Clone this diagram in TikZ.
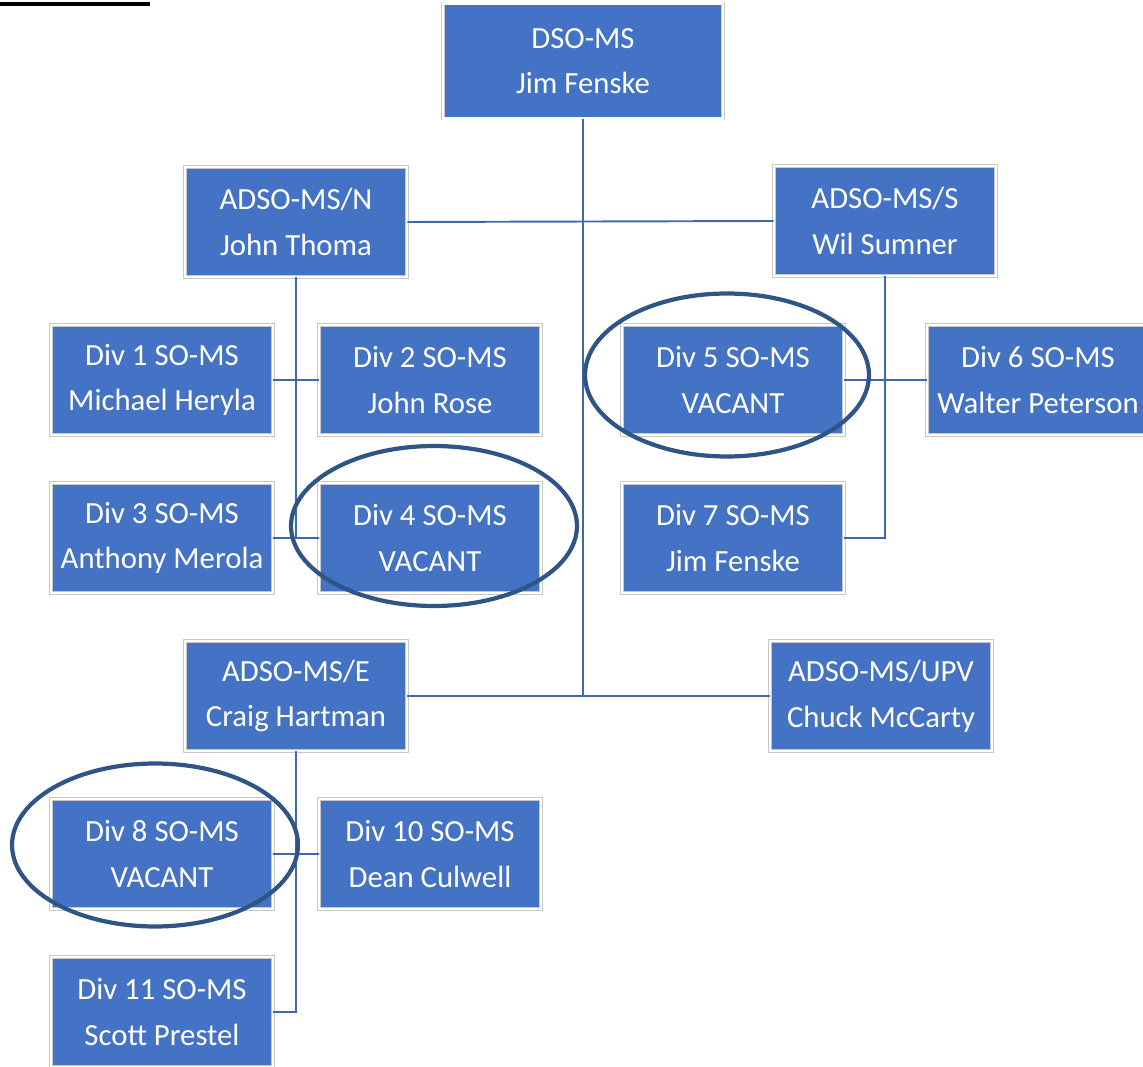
\documentclass[tikz,border=0pt]{standalone}
\usepackage{fontspec}
\setmainfont{Carlito}
\usepackage{xcolor}
\definecolor{boxblue}{HTML}{4472C4}
\definecolor{ringblue}{HTML}{2F5586}
\definecolor{edgegray}{HTML}{C8C8C8}

\tikzset{
  box/.style={fill=boxblue, draw=edgegray, double=white, double distance=1.2pt,
              text=white, align=center, font=\fontsize{17.5}{26}\selectfont,
              minimum width=4.44cm, minimum height=2.2cm, inner sep=0pt},
  link/.style={draw=boxblue!90!black, line width=1.1pt},
  ring/.style={draw=ringblue, line width=2.4pt}
}

\begin{document}
\begin{tikzpicture}[x=0.02cm, y=-0.02cm]
\useasboundingbox (0,0) rectangle (1143,1067);

% top rule
\draw[line width=2.3pt] (0,4) -- (150,4);

% Head
\node[box, minimum width=5.6cm, minimum height=2.3cm] (dso) at (583,61) {DSO-MS\\Jim Fenske};

% Assistants
\node[box] (adson) at (296,222) {ADSO-MS/N\\John Thoma};
\node[box] (adsos) at (885,221) {ADSO-MS/S\\Wil Sumner};
\node[box] (adsoe) at (296,696) {ADSO-MS/E\\Craig Hartman};
\node[box] (adsoupv) at (881,696) {ADSO-MS/UPV\\Chuck McCarty};

% Divisions
\node[box] (div1) at (162,380) {Div 1 SO-MS\\Michael Heryla};
\node[box] (div2) at (430,380) {Div 2 SO-MS\\John Rose};
\node[box] (div3) at (162,538) {Div 3 SO-MS\\Anthony Merola};
\node[box] (div4) at (430,538) {Div 4 SO-MS\\VACANT};
\node[box] (div5) at (733,380) {Div 5 SO-MS\\VACANT};
\node[box] (div6) at (1038,380) {Div 6 SO-MS\\Walter Peterson};
\node[box] (div7) at (733,538) {Div 7 SO-MS\\Jim Fenske};
\node[box] (div8) at (162,854) {Div 8 SO-MS\\VACANT};
\node[box] (div10) at (430,854) {Div 10 SO-MS\\Dean Culwell};
\node[box] (div11) at (162,1012) {Div 11 SO-MS\\Scott Prestel};

% Connections
\draw[link] (dso.south) -- (dso.south |- adsoupv.west);
\draw[link] (adson.east) -- (adsos.west);
\draw[link] (adsoe.east) -- (adsoupv.west);

\draw[link] (adson.south) -- (adson.south |- div3.east);
\draw[link] (div1.east) -- (div2.west);
\draw[link] (div3.east) -- (div4.west);

\draw[link] (adsos.south) -- (adsos.south |- div7.east) -- (div7.east);
\draw[link] (div5.east) -- (div6.west);

\draw[link] (adsoe.south) -- (adsoe.south |- div11.east) -- (div11.east);
\draw[link] (div8.east) -- (div10.west);

% Vacant marks
\draw[ring] (727,375) ellipse [x radius=2.84cm, y radius=1.63cm];
\draw[ring] (434,526) ellipse [x radius=2.86cm, y radius=1.6cm];
\draw[ring] (155,845) ellipse [x radius=2.86cm, y radius=1.63cm];

\end{tikzpicture}
\end{document}
